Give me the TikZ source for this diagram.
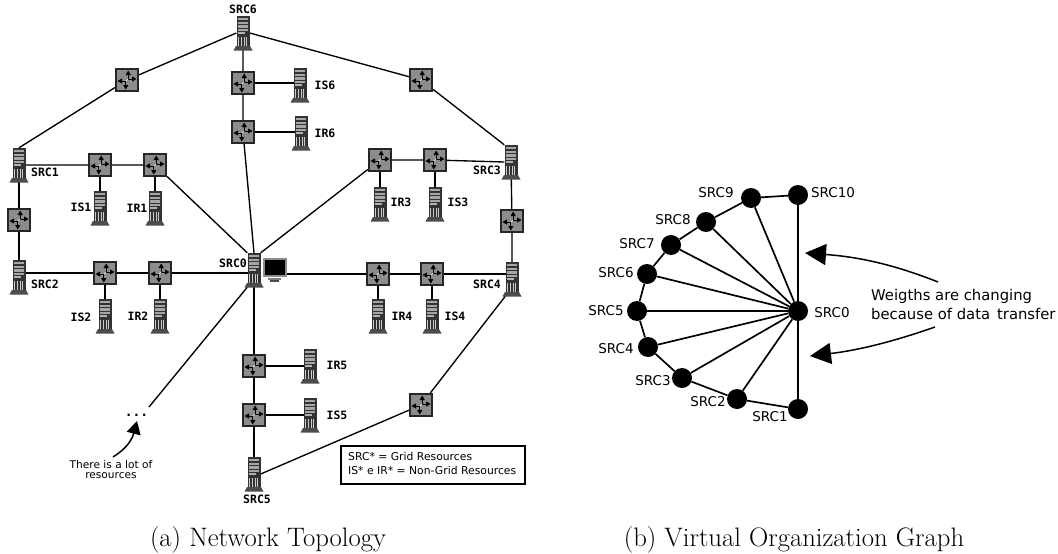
\documentclass[tikz,border=0pt]{standalone}
\usepackage{fontspec}
\usetikzlibrary{arrows.meta,backgrounds}
\setmonofont{DejaVu Sans Mono}
\newfontfamily\dvs{DejaVu Sans}
\newcommand\fsz[1]{\fontsize{#1}{#1}\selectfont}
\tikzset{
  srvbox/.style={inner sep=0pt,minimum width=13pt,minimum height=34pt},
  swbox/.style={draw=black!85,line width=1.8pt,fill=black!45,inner sep=0pt,minimum size=22.5pt},
  lbl/.style={inner sep=0pt,font=\ttfamily\bfseries\fsz{11.5}},
  glbl/.style={inner sep=0pt,font=\dvs\fsz{13.5}},
  gnode/.style={circle,fill=black,inner sep=0pt,minimum size=20pt},
  link/.style={line width=1.35pt,black},
  edge/.style={line width=1.7pt,black},
  swarrow/.style={line width=.9pt,-{Triangle[length=4.5pt,width=5pt]}},
  bigarrow/.style={line width=1.5pt,-{Triangle[length=21pt,width=21pt]}},
}
\newcommand\srv[3]{%
  \node[srvbox] (#1) at (#2,#3) {};
  \begin{scope}[shift={(#2,#3)}]
    \fill[black!80] (-6.5,-17) rectangle (6.5,13);
    \fill[black!70] (-7,13) -- (7,13) -- (9.5,17.5) -- (-9.5,17.5) -- cycle;
    \fill[black!35] (-5,-15) rectangle (5,-12.6);
    \fill[black!35] (-5,-11.4) rectangle (5,-9);
    \fill[black!35] (-5,-7.8) rectangle (5,-5.4);
    \fill[black!35] (-5,-4.2) rectangle (5,-1.8);
    \fill[black!30] (-5,-.6) rectangle (2,1.4);
    \fill[black!20] (-5,3.5) rectangle (5,12.5);
    \foreach \gx in {-4,-2.4,-.8,.8,2.4,4} {\draw[black!80,line width=.7pt] (\gx,4) -- (\gx,12.5);}
  \end{scope}}
\newcommand\swt[3]{%
  \node[swbox] (#1) at (#2,#3) {};
  \begin{scope}[shift={(#2,#3)}]
    \draw[swarrow] (1.2,-1) -- (1.2,-9.5);
    \draw[swarrow] (1.2,-1) -- (9.5,-1);
    \draw[swarrow] (-1.2,1) -- (-9.5,1);
    \draw[swarrow] (-1.2,1) -- (-1.2,9.5);
    \draw[white,line width=.5pt] (-1.2,1) -- (1.2,-1);
  \end{scope}}
\begin{document}
\begin{tikzpicture}[x=1pt,y=-1pt]
\useasboundingbox (0,0) rectangle (1058,554);
% servers
\srv{SRCsix}{243}{33}
\srv{ISsix}{300}{85}
\srv{IRsix}{301}{133}
\srv{SRCone}{19}{165}
\srv{ISone}{100}{208}
\srv{IRone}{155}{208}
\srv{SRCthree}{511}{162}
\srv{IRthree}{380}{204}
\srv{ISthree}{435}{204}
\srv{SRCtwo}{19}{277}
\srv{IStwo}{105}{316}
\srv{IRtwo}{160}{316}
\srv{SRCzero}{254}{270}
\srv{SRCfour}{512}{279}
\srv{IRfour}{378}{316}
\srv{ISfour}{432}{316}
\srv{IRfive}{310}{366}
\srv{ISfive}{310}{415}
\srv{SRCfive}{254}{474}
% monitor
\node[inner sep=0pt,minimum width=22pt,minimum height=17pt,fill=black,draw=black!45,line width=2pt] (mon) at (274.5,267.5) {};
\fill[black!50] (268,277.5) rectangle (281,280);
\fill[black!70] (270,280) rectangle (279,281.5);
% switches
\swt{a}{127}{80}
\swt{b}{243}{83}
\swt{c}{243}{132}
\swt{d}{421}{80}
\swt{e}{100}{165}
\swt{f}{155}{165}
\swt{g}{19}{220}
\swt{h}{105}{273}
\swt{i}{160}{273}
\swt{j}{380}{160}
\swt{k}{435}{160}
\swt{l}{512}{221}
\swt{m}{378}{274}
\swt{n}{432}{274}
\swt{o}{254}{366}
\swt{p}{254}{415}
\swt{q}{421}{405}
\coordinate (free) at (149,407);
\begin{scope}[on background layer]
\draw[link] (SRCsix.west) -- (a) -- (SRCone.north);
\draw[link] (SRCsix.east) -- (d) -- (SRCthree.north west);
\draw[link] (SRCsix) -- (b) -- (c) -- (SRCzero.north);
\draw[link] (b) -- (b -| ISsix);
\draw[link] (c) -- (c -| IRsix);
\draw[link] (SRCone) -- (e) -- (f) -- (SRCzero.north west);
\draw[link] (e) -- (ISone);
\draw[link] (f) -- (IRone);
\draw[link] (SRCone) -- (g) -- (SRCtwo);
\draw[link] (h -| SRCtwo) -- (h) -- (i) -- (i -| SRCzero);
\draw[link] (h) -- (IStwo);
\draw[link] (i) -- (IRtwo);
\draw[link] (SRCzero.north east) -- (j) -- (k) -- (SRCthree.west);
\draw[link] (j) -- (IRthree);
\draw[link] (k) -- (ISthree);
\draw[link] (m -| mon.east) -- (m) -- (n) -- (n -| SRCfour);
\draw[link] (m) -- (IRfour);
\draw[link] (n) -- (ISfour);
\draw[link] (SRCthree) -- (l) -- (SRCfour);
\draw[link] (SRCzero) -- (o) -- (p) -- (SRCfive);
\draw[link] (o) -- (o -| IRfive);
\draw[link] (p) -- (p -| ISfive);
\draw[link] (SRCfive.east) -- (q) -- (SRCfour.south west);
\draw[link] (SRCzero.south west) -- (free);
\end{scope}
% labels
\node[lbl] (t1) at (243,9) {SRC6};
\node[lbl] (t2) at (325,85) {IS6};
\node[lbl] (t3) at (325,133) {IR6};
\node[lbl] (t4) at (45,172) {SRC1};
\node[lbl] (t5) at (81,207) {IS1};
\node[lbl] (t6) at (137,208) {IR1};
\node[lbl] (t7) at (487,170) {SRC3};
\node[lbl] (t8) at (401,202) {IR3};
\node[lbl] (t9) at (458,202) {IS3};
\node[lbl] (t10) at (45,284) {SRC2};
\node[lbl] (t11) at (81,317) {IS2};
\node[lbl] (t12) at (138,316) {IR2};
\node[lbl] (t13) at (233,263) {SRC0};
\node[lbl] (t14) at (487,284) {SRC4};
\node[lbl] (t15) at (402,316) {IR4};
\node[lbl] (t16) at (455,316) {IS4};
\node[lbl] (t17) at (337,365) {IR5};
\node[lbl] (t18) at (337,415) {IS5};
\node[lbl] (t19) at (257,499) {SRC5};
\node[lbl,font=\ttfamily\bfseries\fsz{13}] (dots) at (136.5,415) {...};
% note
\node[inner sep=0pt,align=center,font=\dvs\fsz{10.6}] (note) at (111,471) {\strut There is a lot of\\[0pt]\strut resources};
\coordinate (notetop) at (113,457);
\draw[line width=1.5pt,-{Triangle[length=13pt,width=14pt]}] (notetop) .. controls (126,449) and (132,440) .. (137,421);
% legend
\node[draw=black,line width=1.2pt,minimum width=184pt,minimum height=38pt,inner sep=0pt] (legend) at (433,465) {};
\node[inner sep=0pt,anchor=west,font=\dvs\fsz{10.8}] (leg1) at (348,456) {SRC* = Grid Resources};
\node[inner sep=0pt,anchor=west,font=\dvs\fsz{10.8}] (leg2) at (348,470) {IS* e IR* = Non-Grid Resources};
% captions
\node[inner sep=0pt,anchor=base,font=\fsz{26.7}] (capa) at (268,546) {(a) Network Topology};
\node[inner sep=0pt,anchor=base,font=\fsz{26.7}] (capb) at (794,546) {(b) Virtual Organization Graph};
% graph
\node[gnode] (G0) at (798,311) {};
\node[gnode] (G1) at (798,409) {};
\node[gnode] (G2) at (737,399) {};
\node[gnode] (G3) at (682,378) {};
\node[gnode] (G4) at (648,347) {};
\node[gnode] (G5) at (637,311) {};
\node[gnode] (G6) at (647,274) {};
\node[gnode] (G7) at (671,245) {};
\node[gnode] (G8) at (706,222) {};
\node[gnode] (G9) at (751,198) {};
\node[gnode] (G10) at (798,195) {};
\begin{scope}[on background layer]
\foreach \k in {1,...,10} {\draw[edge] (G0) -- (G\k);}
\draw[edge] (G1) -- (G2) -- (G3) -- (G4) -- (G5) -- (G6) -- (G7) -- (G8) -- (G9) -- (G10);
\end{scope}
\node[glbl] (l0) at (832,313) {SRC0};
\node[glbl] (l1) at (770,417) {SRC1};
\node[glbl] (l2) at (708,402) {SRC2};
\node[glbl] (l3) at (653,381) {SRC3};
\node[glbl] (l4) at (616,349) {SRC4};
\node[glbl] (l5) at (606,311) {SRC5};
\node[glbl] (l6) at (616,273) {SRC6};
\node[glbl] (l7) at (637,244) {SRC7};
\node[glbl] (l8) at (673,220) {SRC8};
\node[glbl] (l9) at (716,193) {SRC9};
\node[glbl] (l10) at (833,193) {SRC10};
\node[glbl,anchor=west,font=\dvs\fsz{14.8}] (w1) at (871,296) {Weigths are changing};
\node[glbl,anchor=west,font=\dvs\fsz{14.8}] (w2) at (871,314) {because of data\hspace{7pt}transfer};
\coordinate (ua) at (938,282);
\coordinate (ut) at (805,253);
\coordinate (la) at (935,327);
\coordinate (lt) at (810,356);
\draw[bigarrow] (ua) .. controls (895,265) and (860,257) .. (ut);
\draw[bigarrow] (la) .. controls (895,341) and (860,350) .. (lt);
\end{tikzpicture}
\end{document}
